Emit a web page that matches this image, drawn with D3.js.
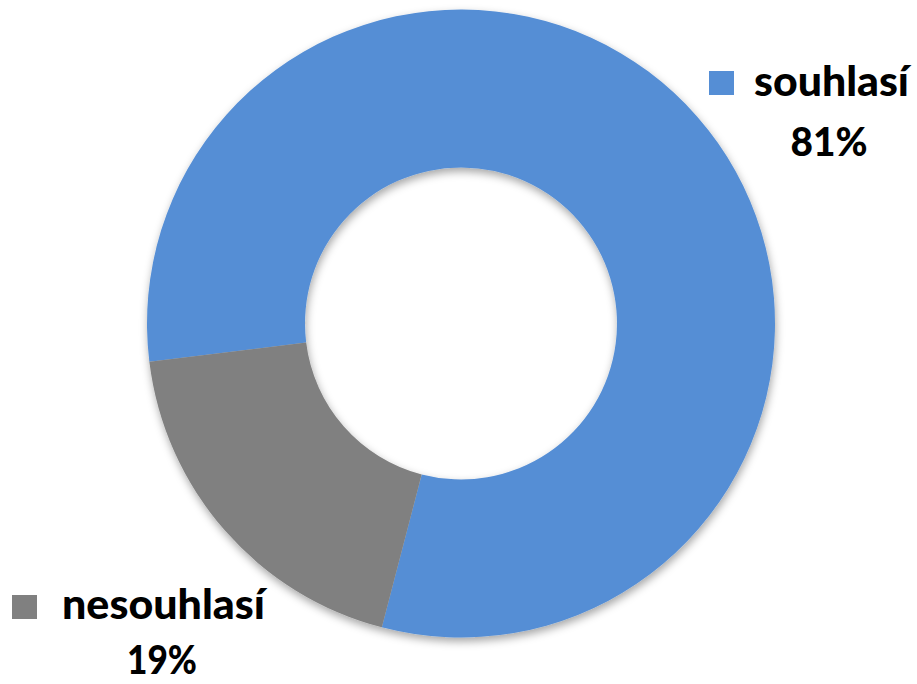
<!DOCTYPE html>
<html><head><meta charset="utf-8">
<script src="https://cdn.jsdelivr.net/npm/d3@7"></script>
<style>html,body{margin:0;padding:0;background:#fff;}svg{display:block;}</style>
</head><body>
<script>
const categories = ["souhlasí", "nesouhlasí"];
const values = [81, 19];
const labels = ["81%", "19%"];
const colors = ["#558ED5", "#808080"];

const W = 917, H = 684;
const svg = d3.select("body").append("svg").attr("width", W).attr("height", H);
const defs = svg.append("defs");
const f = defs.append("filter").attr("id","sh").attr("x","-20%").attr("y","-20%").attr("width","140%").attr("height","140%");
f.append("feDropShadow").attr("dx",1).attr("dy",4).attr("stdDeviation",4).attr("flood-color","#000").attr("flood-opacity",0.35);

const cx = 461, cy = 323.5, R = 314, r = 156;
const pie = d3.pie().sort(null).startAngle(263*Math.PI/180).endAngle((263+360)*Math.PI/180);
const arc = d3.arc().innerRadius(r).outerRadius(R);
const g = svg.append("g").attr("transform", `translate(${cx},${cy})`).attr("filter","url(#sh)");
g.selectAll("path").data(pie(values)).join("path")
  .attr("d", arc).attr("fill", (d,i)=>colors[i]);

// legend-style labels
const lab = [
  {sq:[709,71], name:[754,96,155], pct:[829,156,77]},
  {sq:[12,595], name:[62,619,203], pct:[162,674,70]}
];
const font = "Lato, 'Open Sans', sans-serif";
categories.forEach((c,i)=>{
  const L = lab[i];
  svg.append("rect").attr("x",L.sq[0]).attr("y",L.sq[1]).attr("width",25).attr("height",24).attr("fill",colors[i]);
  svg.append("text").attr("x",L.name[0]).attr("y",L.name[1]).attr("font-family",font).attr("font-weight",900)
    .attr("font-size",42).attr("fill","#000").attr("textLength",L.name[2]).attr("lengthAdjust","spacingAndGlyphs").text(c);
  svg.append("text").attr("x",L.pct[0]).attr("y",L.pct[1]).attr("text-anchor","middle").attr("font-family",font).attr("font-weight",900)
    .attr("font-size",40).attr("fill","#000").attr("textLength",L.pct[2]).attr("lengthAdjust","spacingAndGlyphs").text(labels[i]);
});
</script>
</body></html>
